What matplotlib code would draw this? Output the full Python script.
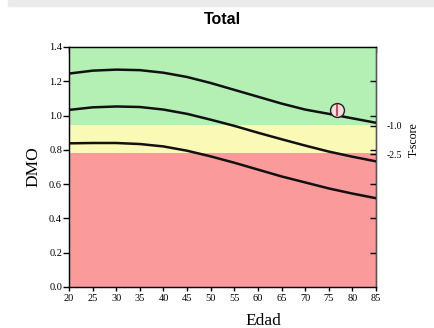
import matplotlib.pyplot as plt
from matplotlib.patches import Rectangle

# edad (años) y curvas de referencia DMO
edad = [20, 25, 30, 35, 40, 45, 50, 55, 60, 65, 70, 75, 80, 85]
curva_sup = [1.245, 1.262, 1.268, 1.265, 1.25, 1.225, 1.19, 1.15, 1.11, 1.07, 1.035, 1.01, 0.984, 0.958]
curva_media = [1.033, 1.048, 1.053, 1.05, 1.035, 1.01, 0.976, 0.94, 0.90, 0.862, 0.825, 0.79, 0.76, 0.733]
curva_inf = [0.838, 0.84, 0.84, 0.834, 0.82, 0.795, 0.762, 0.725, 0.685, 0.645, 0.61, 0.575, 0.545, 0.518]

# limites de zonas (T-score -1.0 y -2.5)
lim_normal = 0.945
lim_osteo = 0.783
tscore_pos = [0.94, 0.775]
tscore_lab = ['-1.0', '-2.5']

# paciente
pac_edad = 76.8
pac_dmo = 1.035

serif = 'Liberation Serif'

fig = plt.figure(figsize=(4.34, 3.28), dpi=100)
fig.patches.append(Rectangle((8 / 434, 1 - 6 / 328), 1, 6 / 328, transform=fig.transFigure,
                             color='#ebebeb', zorder=0))
ax = fig.add_axes([69 / 434, 1 - 287 / 328, 307 / 434, 240 / 328])

ax.axhspan(lim_normal, 1.4, color='#b4f0b4', lw=0)
ax.axhspan(lim_osteo, lim_normal, color='#fafab6', lw=0)
ax.axhspan(0, lim_osteo, color='#fa9a9a', lw=0)

for c in (curva_sup, curva_media, curva_inf):
    ax.plot(edad, c, color='#111111', lw=1.8)

ax.plot(pac_edad, pac_dmo, 'o', ms=10, mfc='#f6dede', mec='#222222', mew=1.0, zorder=5)
ax.plot(pac_edad, pac_dmo, '|', ms=8, color='#c03050', mew=1.2, zorder=6)

ax.set_xlim(20, 85)
ax.set_ylim(0, 1.4)
ax.set_xticks(range(20, 90, 5))
ax.set_yticks([0.0, 0.2, 0.4, 0.6, 0.8, 1.0, 1.2, 1.4])
ax.set_yticklabels(['0.0', '0.2', '0.4', '0.6', '0.8', '1.0', '1.2', '1.4'])
ax.tick_params(axis='y', direction='out', length=4, width=1, labelsize=7.5, pad=1)
ax.tick_params(axis='x', direction='out', length=3, width=1, labelsize=7.5, pad=2)
for lab in ax.get_xticklabels() + ax.get_yticklabels():
    lab.set_fontfamily(serif)
for s in ax.spines.values():
    s.set_color('#222222')
    s.set_linewidth(1.0)

# marcas superiores hacia dentro
axt = ax.secondary_xaxis('top')
axt.set_xticks(range(20, 90, 5))
axt.tick_params(direction='in', length=4, width=1, labeltop=False)

axr = ax.twinx()
axr.set_ylim(0, 1.4)
axr.set_yticks(tscore_pos)
axr.set_yticklabels(tscore_lab, fontfamily=serif, fontsize=7)
axr.set_yticks([0.2, 0.4, 0.6, 0.8, 1.0, 1.2], minor=True)
axr.tick_params(axis='y', which='both', direction='in', length=4, width=1, pad=8)
axr.spines['right'].set_color('#555555')

fig.text(222 / 434, 1 - 19 / 328, 'Total', ha='center', va='center',
         fontsize=11.5, fontweight='bold', family='Liberation Sans')
fig.text(33 / 434, 1 - 167 / 328, 'DMO', rotation=90, ha='center', va='center',
         fontsize=12.5, family=serif)
fig.text(263 / 434, 1 - 321 / 328, 'Edad', ha='center', va='center',
         fontsize=12.5, family=serif)
fig.text(414 / 434, 1 - 140 / 328, 'T-score', rotation=90, ha='center', va='center',
         fontsize=8.5, family=serif)

fig.savefig('out.png', dpi=100)
